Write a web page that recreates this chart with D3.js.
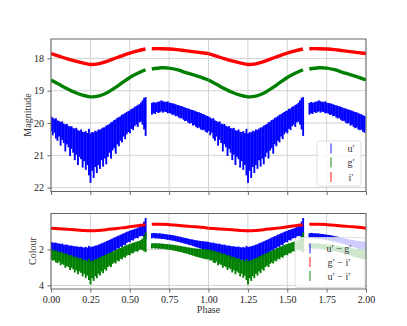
<!DOCTYPE html>
<html><head><meta charset="utf-8">
<script src="https://cdn.jsdelivr.net/npm/d3@7"></script>
<style>body{margin:0;background:#fff}svg{display:block}text{font-family:"Liberation Serif","DejaVu Serif",serif}</style>
</head><body><svg id="c" width="407" height="326"></svg>
<script>
// ---- data ----
const xTicks = [0,0.25,0.5,0.75,1,1.25,1.5,1.75,2];
const magTicks = [18,19,20,21,22];
const colTicks = [2,4];
const legendTop = ["u′","g′","i′"];
const legendBot = ["u′ − g′","g′ − i′","u′ − i′"];

// smooth light curves (phase, value)
const smoothPhase = [0,0.05,0.1,0.15,0.2,0.25,0.3,0.35,0.4,0.45,0.5,0.55,0.6, 0.64,0.7,0.75,0.8,0.85,0.9,0.95,1.0];
const iMag = [17.85,17.93,18.01,18.08,18.14,18.19,18.17,18.10,18.01,17.92,17.84,17.77,17.71, 17.70,17.70,17.71,17.73,17.76,17.79,17.82,17.85];
const gMag = [18.67,18.80,18.93,19.05,19.14,19.19,19.17,19.08,18.93,18.76,18.59,18.46,18.35, 18.33,18.29,18.30,18.35,18.43,18.50,18.58,18.67];
const giCol = [0.82,0.85,0.88,0.91,0.94,0.96,0.94,0.90,0.85,0.80,0.74,0.68,0.62, 0.60,0.60,0.62,0.65,0.69,0.73,0.77,0.82];

// noisy series sampled per 0.01 phase bin: 0.00..0.60 then 0.64..0.99
const binPhase = d3.range(0,61).map(i=>i/100).concat(d3.range(64,100).map(i=>i/100));
const uMin = [19.80,19.83,19.87,19.85,19.92,19.94,19.97,19.95,20.02,20.04,20.03,20.09,20.11,20.10,20.16,20.17,20.15,20.22,20.24,20.20,20.27,20.28,20.25,20.31,20.18,20.32,20.28,20.29,20.24,20.26,20.20,20.21,20.17,20.14,20.13,20.08,20.06,20.03,19.98,19.96,19.91,19.89,19.84,19.82,19.79,19.74,19.73,19.69,19.66,19.63,19.61,19.56,19.55,19.50,19.48,19.44,19.42,19.37,19.30,19.22,19.20,
 19.38,19.35,19.37,19.36,19.34,19.33,19.30,19.33,19.34,19.35,19.33,19.37,19.38,19.39,19.40,19.42,19.44,19.45,19.47,19.48,19.50,19.52,19.54,19.55,19.57,19.59,19.60,19.62,19.64,19.66,19.67,19.69,19.72,19.73,19.76,19.78];
const uMax = [20.25,20.38,20.30,20.48,20.55,20.42,20.70,20.52,20.62,20.88,20.66,20.75,21.02,20.80,20.92,21.15,20.98,21.30,21.05,21.12,21.38,21.18,21.45,21.30,21.62,21.85,21.48,21.70,21.36,21.55,21.30,21.42,21.15,21.35,21.10,21.28,21.05,20.92,21.10,20.85,20.78,20.95,20.66,20.72,20.55,20.60,20.42,20.50,20.35,20.28,20.32,20.18,20.22,20.10,20.05,20.12,19.98,19.96,20.05,20.20,20.40,
 19.74,19.70,19.72,19.66,19.69,19.67,19.64,19.68,19.65,19.66,19.70,19.69,19.71,19.75,19.74,19.79,19.78,19.83,19.86,19.85,19.90,19.94,19.93,19.99,20.02,20.00,20.08,20.06,20.12,20.16,20.14,20.20,20.22,20.21,20.27,20.30];
const ugMin = [1.58,1.61,1.63,1.62,1.66,1.67,1.69,1.68,1.73,1.74,1.73,1.77,1.79,1.78,1.81,1.83,1.82,1.85,1.86,1.84,1.88,1.89,1.86,1.90,1.80,1.87,1.84,1.83,1.79,1.78,1.73,1.71,1.66,1.63,1.59,1.55,1.51,1.47,1.43,1.39,1.34,1.31,1.26,1.23,1.18,1.15,1.10,1.07,1.02,0.99,0.96,0.92,0.90,0.86,0.84,0.79,0.76,0.71,0.62,0.45,0.25,
 1.10,1.08,1.09,1.10,1.11,1.10,1.12,1.13,1.14,1.15,1.17,1.18,1.19,1.20,1.22,1.24,1.26,1.28,1.29,1.32,1.34,1.36,1.37,1.40,1.42,1.44,1.45,1.47,1.49,1.50,1.52,1.53,1.54,1.55,1.56,1.57];
const ugMax = [2.08,2.14,2.12,2.20,2.24,2.18,2.32,2.26,2.30,2.42,2.34,2.38,2.50,2.40,2.46,2.58,2.48,2.62,2.52,2.56,2.70,2.58,2.72,2.64,2.78,2.90,2.70,2.80,2.62,2.70,2.55,2.60,2.45,2.52,2.38,2.42,2.28,2.22,2.26,2.12,2.06,2.08,1.94,1.96,1.84,1.86,1.74,1.76,1.64,1.58,1.60,1.48,1.50,1.40,1.36,1.38,1.28,1.25,1.26,1.32,1.40,
 1.38,1.35,1.39,1.38,1.40,1.39,1.42,1.41,1.43,1.44,1.47,1.46,1.49,1.51,1.52,1.55,1.56,1.58,1.61,1.63,1.66,1.68,1.70,1.73,1.76,1.77,1.81,1.84,1.87,1.89,1.93,1.95,1.99,2.01,2.05,2.07];
const uiMin = [2.00,2.02,2.06,2.05,2.10,2.12,2.16,2.14,2.22,2.24,2.23,2.30,2.33,2.32,2.39,2.42,2.40,2.48,2.51,2.48,2.57,2.60,2.58,2.64,2.52,2.65,2.61,2.61,2.55,2.53,2.47,2.45,2.39,2.36,2.32,2.27,2.24,2.19,2.16,2.11,2.08,2.03,2.00,1.95,1.92,1.87,1.84,1.79,1.76,1.72,1.70,1.66,1.64,1.60,1.58,1.54,1.52,1.47,1.40,1.25,1.05,
 1.66,1.65,1.66,1.65,1.67,1.66,1.68,1.68,1.69,1.70,1.71,1.72,1.73,1.74,1.75,1.76,1.78,1.79,1.81,1.82,1.84,1.85,1.87,1.88,1.90,1.91,1.93,1.94,1.95,1.96,1.97,1.97,1.98,1.99,1.99,2.00];
const uiMax = [2.55,2.62,2.60,2.72,2.76,2.68,2.88,2.80,2.86,3.02,2.92,2.98,3.14,3.02,3.10,3.28,3.15,3.38,3.22,3.30,3.50,3.35,3.58,3.45,3.70,3.95,3.60,3.75,3.48,3.60,3.35,3.45,3.22,3.32,3.10,3.18,2.98,2.90,2.98,2.80,2.72,2.78,2.62,2.66,2.52,2.55,2.42,2.46,2.34,2.30,2.32,2.20,2.22,2.12,2.10,2.12,2.02,2.00,2.04,2.10,2.15,
 1.95,1.92,1.95,1.94,1.96,1.95,1.97,1.96,1.98,1.99,2.01,2.01,2.03,2.05,2.06,2.08,2.10,2.12,2.14,2.16,2.19,2.21,2.23,2.26,2.29,2.31,2.34,2.37,2.40,2.42,2.45,2.47,2.50,2.51,2.54,2.55];

const BLUE="#0000ff", GREEN="#008000", RED="#ff0000";
const svg = d3.select("#c");
const L=51, R=366;
const x = d3.scaleLinear([0,2],[L,R]);
const yT = d3.scaleLinear([17.40,22.12],[39,191.5]);
const yB = d3.scaleLinear([0.0,4.2],[213.5,289]);

function panel(y, top, bottom, yticks, id){
  const g = svg.append("g");
  g.selectAll(".gx").data(xTicks).join("line").attr("x1",d=>x(d)).attr("x2",d=>x(d)).attr("y1",top).attr("y2",bottom).attr("stroke","#d3d3d3").attr("stroke-width",1);
  g.selectAll(".gy").data(yticks).join("line").attr("y1",d=>y(d)).attr("y2",d=>y(d)).attr("x1",L).attr("x2",R).attr("stroke","#d3d3d3").attr("stroke-width",1);
  svg.append("clipPath").attr("id",id).append("rect").attr("x",L).attr("y",top).attr("width",R-L).attr("height",bottom-top);
  return g;
}
function frame(y, top, bottom, yticks, showX){
  const g = svg.append("g");
  const ax = d3.axisBottom(x).tickValues(xTicks).tickSize(3.5).tickPadding(3).tickFormat(showX? d3.format(".2f") : "");
  const ay = d3.axisLeft(y).tickValues(yticks).tickSize(3.5).tickPadding(3.5).tickFormat(d3.format("d"));
  const gx = g.append("g").attr("transform",`translate(0,${bottom})`).call(ax);
  const gy = g.append("g").attr("transform",`translate(${L},0)`).call(ay);
  [gx,gy].forEach(a=>{a.select(".domain").remove();a.selectAll("line").attr("stroke","#444").attr("stroke-width",0.8);a.selectAll("text").attr("font-size",10).attr("fill","#222").attr("font-family","Liberation Serif, serif");});
  g.append("rect").attr("x",L).attr("y",top).attr("width",R-L).attr("height",bottom-top).attr("fill","none").attr("stroke","#666").attr("stroke-width",1);
}
function noisy(g, y, mins, maxs, color, clip){
  const data=[];
  binPhase.forEach((p,i)=>{[0,1].forEach(k=>data.push({p:p+k,a:mins[i],b:maxs[i]}));});
  const bw = x(0.01)-x(0);
  g.append("g").attr("clip-path",`url(#${clip})`).selectAll("rect").data(data).join("rect")
   .attr("x",d=>x(d.p)-bw/2).attr("width",bw+0.3)
   .attr("y",d=>Math.min(y(d.a),y(d.b))).attr("height",d=>Math.abs(y(d.b)-y(d.a)))
   .attr("fill",color);
}
function smooth(g, y, vals, color, w, clip){
  const seg1 = smoothPhase.map((p,i)=>[p,vals[i]]);
  const parts=[];
  [0,1].forEach(k=>{
    parts.push(seg1.filter(d=>d[0]<=0.6).map(d=>[d[0]+k,d[1]]));
    parts.push(seg1.filter(d=>d[0]>=0.64).map(d=>[d[0]+k,d[1]]));
  });
  const line = d3.line().x(d=>x(d[0])).y(d=>y(d[1])).curve(d3.curveCatmullRom);
  g.append("g").attr("clip-path",`url(#${clip})`).selectAll("path").data(parts).join("path")
   .attr("d",line).attr("fill","none").attr("stroke",color).attr("stroke-width",w);
}

// top panel
const gT = panel(yT,39,191.5,magTicks,"clipT");
noisy(gT,yT,uMin,uMax,BLUE,"clipT");
smooth(gT,yT,gMag,GREEN,3.4,"clipT");
smooth(gT,yT,iMag,RED,3.4,"clipT");
frame(yT,39,191.5,magTicks,false);

// bottom panel
const gB = panel(yB,213.5,289,colTicks,"clipB");
noisy(gB,yB,ugMin,ugMax,BLUE,"clipB");
smooth(gB,yB,giCol,RED,3.0,"clipB");
noisy(gB,yB,uiMin,uiMax,GREEN,"clipB");
frame(yB,213.5,289,colTicks,true);

// legends
function legend(x0,y0,w,h,hx,lx,rows,labels,colors){
  const g=svg.append("g");
  g.append("rect").attr("x",x0).attr("y",y0).attr("width",w).attr("height",h).attr("rx",2.5)
   .attr("fill","white").attr("fill-opacity",0.8).attr("stroke","#d8d8d8").attr("stroke-width",0.8);
  labels.forEach((t,i)=>{
    g.append("line").attr("x1",hx).attr("x2",hx).attr("y1",rows[i]-5).attr("y2",rows[i]+5)
     .attr("stroke",colors[i]).attr("stroke-opacity",0.5).attr("stroke-width",1.8);
    g.append("text").attr("x",lx).attr("y",rows[i]).attr("dy","0.35em").attr("text-anchor","middle")
     .attr("font-size",10).attr("fill","#333").text(t);
  });
}
legend(317,141,44,45,331,351,[148.5,162.5,177],legendTop,[BLUE,GREEN,RED]);
legend(295,237.5,70,50,310,339,[248.5,262,276],legendBot,[BLUE,RED,GREEN]);

// axis titles
svg.append("text").attr("transform","translate(27.5,115) rotate(-90)").attr("text-anchor","middle").attr("dy","0.35em").attr("font-size",10).attr("fill","#333").text("Magnitude");
svg.append("text").attr("transform","translate(32,251) rotate(-90)").attr("text-anchor","middle").attr("dy","0.35em").attr("font-size",10).attr("fill","#333").text("Colour");
svg.append("text").attr("x",208.5).attr("y",309).attr("text-anchor","middle").attr("dy","0.35em").attr("font-size",10).attr("fill","#333").text("Phase");
</script></body></html>
